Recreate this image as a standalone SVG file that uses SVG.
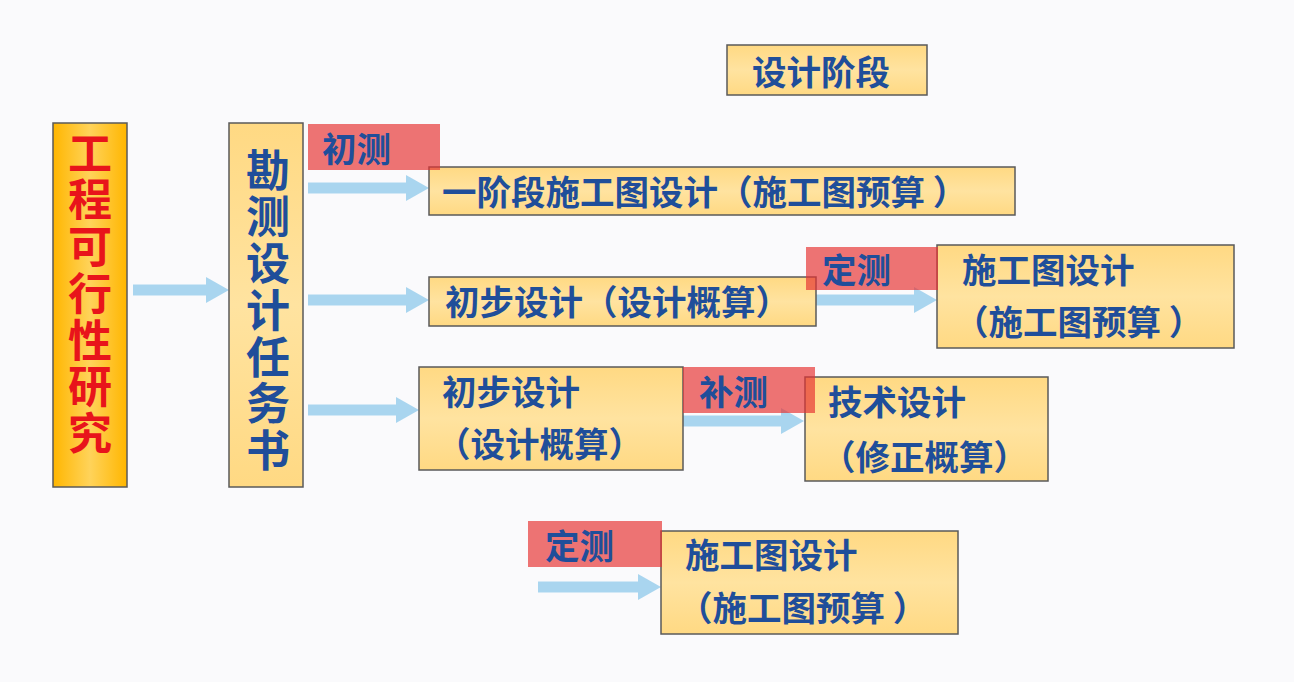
<svg xmlns="http://www.w3.org/2000/svg" width="1294" height="682" viewBox="0 0 1294 682">
<style>
.box{fill:url(#yg);stroke:#5a5a5a;stroke-width:1.5}
.tag{fill:#E63232;fill-opacity:0.68}
.t{font-family:"Noto Sans CJK SC","Noto Sans",sans-serif;font-weight:700;font-size:34.5px;fill:#1F4E9A;dominant-baseline:central}
.v{font-family:"Noto Sans CJK SC","Noto Sans",sans-serif;font-weight:700;font-size:44px;letter-spacing:2.7px}
.arr{stroke:#A9D5EF;stroke-width:11;fill:none;marker-end:url(#ah)}
</style>
<defs>
<linearGradient id="yg" x1="0" y1="0" x2="0" y2="1">
<stop offset="0" stop-color="#FFD983"/>
<stop offset="0.5" stop-color="#FFE3A0"/>
<stop offset="1" stop-color="#FFD983"/>
</linearGradient>
<linearGradient id="og" x1="0" y1="0" x2="1" y2="0">
<stop offset="0" stop-color="#FFB600"/>
<stop offset="0.5" stop-color="#FFD35A"/>
<stop offset="1" stop-color="#FFB600"/>
</linearGradient>
<marker id="ah" markerUnits="userSpaceOnUse" markerWidth="24" markerHeight="26" viewBox="0 0 24 26" refX="0" refY="13" orient="auto">
<path d="M0,0 L23,13 L0,26 Z" fill="#A9D5EF"/>
</marker>
</defs>
<rect width="1294" height="682" fill="#FAFAFC"/>

<g id="connectors">
<line class="arr" x1="133" y1="290" x2="206" y2="290"/>
<line class="arr" x1="308" y1="188" x2="406" y2="188"/>
<line class="arr" x1="308" y1="300" x2="406" y2="300"/>
<line class="arr" x1="308" y1="410" x2="396" y2="410"/>
<line class="arr" x1="816" y1="300" x2="914" y2="300"/>
<line class="arr" x1="683" y1="421" x2="781" y2="421"/>
<line class="arr" x1="538" y1="587" x2="638" y2="587"/>
</g>

<g id="title">
<rect class="box" x="727" y="45" width="200" height="50"/>
<text class="t" x="752" y="70">设计阶段</text>
</g>

<g id="feasibility">
<rect x="53" y="123" width="74" height="364" fill="url(#og)" stroke="#5a5a5a" stroke-width="1.5"/>
<text class="v" fill="#E8141B" x="90" y="131" writing-mode="tb">工程可行性研究</text>
</g>

<g id="task">
<rect class="box" x="229" y="123" width="74" height="364"/>
<text class="v" fill="#1F4E9A" x="268" y="148" writing-mode="tb">勘测设计任务书</text>
</g>

<g id="one-stage">
<rect class="box" x="429" y="167" width="586" height="48"/>
<text class="t" x="442" y="190">一阶段施工图设计（施工图预算 ）</text>
</g>

<g id="tag-chuce">
<rect class="tag" x="308" y="124" width="132" height="46"/>
<text class="t" x="322" y="147">初测</text>
</g>

<g id="prelim-1">
<rect class="box" x="429" y="277" width="387" height="49"/>
<text class="t" x="445" y="300">初步设计（设计概算）</text>
</g>

<g id="constr-1">
<rect class="box" x="937" y="245" width="297" height="103"/>
<text class="t" x="962" y="268">施工图设计</text>
<text class="t" x="954" y="320">（施工图预算 ）</text>
</g>

<g id="tag-dingce-1">
<rect class="tag" x="806" y="247" width="132" height="43"/>
<text class="t" x="822" y="268">定测</text>
</g>

<g id="prelim-2">
<rect class="box" x="419" y="367" width="264" height="103"/>
<text class="t" x="442" y="390">初步设计</text>
<text class="t" x="436" y="442">（设计概算）</text>
</g>

<g id="tech">
<rect class="box" x="805" y="377" width="243" height="104"/>
<text class="t" x="828" y="400">技术设计</text>
<text class="t" x="821" y="455">（修正概算）</text>
</g>

<g id="tag-buce">
<rect class="tag" x="683" y="367" width="132" height="46"/>
<text class="t" x="699" y="390">补测</text>
</g>

<g id="constr-2">
<rect class="box" x="661" y="531" width="297" height="103"/>
<text class="t" x="685" y="553">施工图设计</text>
<text class="t" x="678" y="606">（施工图预算 ）</text>
</g>

<g id="tag-dingce-2">
<rect class="tag" x="528" y="521" width="134" height="46"/>
<text class="t" x="545" y="544">定测</text>
</g>
</svg>
